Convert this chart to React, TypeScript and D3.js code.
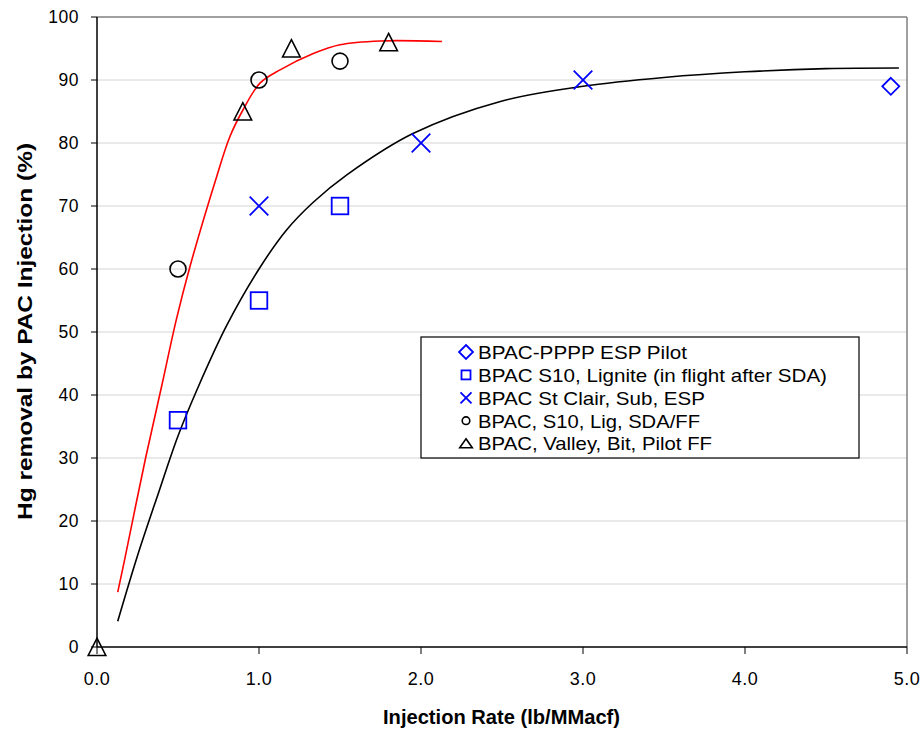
import React, { useEffect } from "react";
import * as d3 from "d3";

const xTicks = [0, 1, 2, 3, 4, 5];
const yTicks = [0, 10, 20, 30, 40, 50, 60, 70, 80, 90, 100];

const diamondPts: [number, number][] = [[4.9, 89]];
const squarePts: [number, number][] = [[0.5, 36], [1.0, 55], [1.5, 70]];
const crossPts: [number, number][] = [[1.0, 70], [2.0, 80], [3.0, 90]];
const circlePts: [number, number][] = [[0.5, 60], [1.0, 90], [1.5, 93]];
const trianglePts: [number, number][] = [[0, 0], [0.9, 85], [1.2, 95], [1.8, 96]];

const redFit: [number, number][] = [
  [0.128, 8.7], [0.17, 13.8], [0.3, 30], [0.4, 41.5], [0.49, 52], [0.574, 60.4],
  [0.739, 74.7], [0.82, 81], [0.9, 85.2], [1.006, 89.5], [1.13, 91.6], [1.335, 94.2],
  [1.5, 95.6], [1.75, 96.2], [2.13, 96.1],
];
const blackFit: [number, number][] = [
  [0.128, 4.1], [0.25, 14.5], [0.38, 24.5], [0.5, 33.5], [0.62, 41], [0.8, 51],
  [1.0, 60], [1.17, 66.2], [1.335, 70.6], [1.54, 74.9], [1.95, 81.5], [2.49, 86.6],
  [3.0, 89], [3.5, 90.4], [4.0, 91.3], [4.5, 91.8], [4.95, 91.9],
];

const legendItems = [
  { label: "BPAC-PPPP ESP Pilot", shape: "diamond", len: 209 },
  { label: "BPAC S10, Lignite (in flight after SDA)", shape: "square", len: 349 },
  { label: "BPAC St Clair, Sub, ESP", shape: "cross", len: 227 },
  { label: "BPAC, S10, Lig, SDA/FF", shape: "circle", len: 222 },
  { label: "BPAC, Valley, Bit, Pilot FF", shape: "triangle", len: 234 },
];

const BLUE = "#0000ff";
const FONT = "'Liberation Sans', Arial, sans-serif";

function Marker({ shape, x, y, legend = false }: { shape: string; x: number; y: number; legend?: boolean }) {
  if (shape === "diamond") {
    const r = legend ? 7 : 8.5;
    return <path d={`M${x},${y - r}L${x + r},${y}L${x},${y + r}L${x - r},${y}Z`} fill="none" stroke={BLUE} strokeWidth={1.8} />;
  }
  if (shape === "square") {
    const r = legend ? 4.5 : 8.3;
    return <rect x={x - r} y={y - r} width={2 * r} height={2 * r} fill="none" stroke={BLUE} strokeWidth={1.8} />;
  }
  if (shape === "cross") {
    const r = legend ? 5.5 : 9.3;
    return <path d={`M${x - r},${y - r}L${x + r},${y + r}M${x - r},${y + r}L${x + r},${y - r}`} fill="none" stroke={BLUE} strokeWidth={1.8} />;
  }
  if (shape === "circle") {
    return <circle cx={x} cy={y} r={legend ? 3.8 : 8} fill="none" stroke="#000" strokeWidth={1.6} />;
  }
  const w = legend ? 6.3 : 8.8;
  const up = legend ? 4.8 : 8.8;
  const dn = legend ? 4.2 : 8.5;
  return <path d={`M${x},${y - up}L${x + w},${y + dn}L${x - w},${y + dn}Z`} fill="none" stroke="#000" strokeWidth={1.6} />;
}

export default function App() {
  useEffect(() => {
    document.body.style.margin = "0";
  }, []);
  const W = 924, H = 736;
  const left = 97, right = 907, top = 17, bottom = 647;
  const x = d3.scaleLinear().domain([0, 5]).range([left, right]);
  const y = d3.scaleLinear().domain([0, 100]).range([bottom, top]);
  const line = d3.line<[number, number]>().x((d) => x(d[0])).y((d) => y(d[1])).curve(d3.curveCatmullRom.alpha(0.5));

  const lx = 421, ly = 337, lw = 438, lh = 121;

  return (
    <svg width={W} height={H} style={{ display: "block", background: "#fff" }} fontFamily={FONT}>
      {yTicks.filter((t) => t > 0 && t < 100).map((t) => (
        <line key={t} x1={left} x2={right} y1={y(t)} y2={y(t)} stroke="#d4d4d4" strokeWidth={1} />
      ))}
      <line x1={left} x2={right} y1={top} y2={top} stroke="#808080" strokeWidth={1.5} />
      <line x1={right} x2={right} y1={top} y2={bottom} stroke="#808080" strokeWidth={1.5} />
      <line x1={left} x2={left} y1={top} y2={bottom} stroke="#000" strokeWidth={1.5} />
      <line x1={left} x2={right} y1={bottom} y2={bottom} stroke="#000" strokeWidth={1.5} />
      {yTicks.map((t) => (
        <g key={t}>
          <line x1={left - 6} x2={left} y1={y(t)} y2={y(t)} stroke="#000" strokeWidth={1} />
          <text x={79} y={y(t)} dy="0.36em" textAnchor="end" fontSize={17.5} letterSpacing={0.5}>{t}</text>
        </g>
      ))}
      {xTicks.map((t) => (
        <g key={t}>
          <line x1={x(t)} x2={x(t)} y1={bottom} y2={bottom + 7} stroke="#000" strokeWidth={1} />
          <text x={x(t)} y={685} textAnchor="middle" fontSize={18} letterSpacing={0.5}>{t.toFixed(1)}</text>
        </g>
      ))}
      <text x={383} y={724} fontSize={21} fontWeight="bold" textLength={237} lengthAdjust="spacingAndGlyphs">Injection Rate (lb/MMacf)</text>
      <text transform={`translate(31.5,${331.5}) rotate(-90)`} textAnchor="middle" fontSize={20.5} fontWeight="bold" textLength={377} lengthAdjust="spacingAndGlyphs">Hg removal by PAC Injection (%)</text>

      <path d={line(redFit) || ""} fill="none" stroke="#ff0000" strokeWidth={1.6} />
      <path d={line(blackFit) || ""} fill="none" stroke="#000" strokeWidth={1.6} />

      {diamondPts.map((p, i) => <Marker key={"d" + i} shape="diamond" x={x(p[0])} y={y(p[1])} />)}
      {squarePts.map((p, i) => <Marker key={"s" + i} shape="square" x={x(p[0])} y={y(p[1])} />)}
      {crossPts.map((p, i) => <Marker key={"c" + i} shape="cross" x={x(p[0])} y={y(p[1])} />)}
      {circlePts.map((p, i) => <Marker key={"o" + i} shape="circle" x={x(p[0])} y={y(p[1])} />)}
      {trianglePts.map((p, i) => <Marker key={"t" + i} shape="triangle" x={x(p[0])} y={y(p[1])} />)}

      <rect x={lx} y={ly} width={lw} height={lh} fill="#fff" stroke="#000" strokeWidth={1.2} />
      {legendItems.map((it, i) => (
        <g key={it.label}>
          <Marker shape={it.shape} x={466} y={352 + i * 22.9} legend />
          <text x={478} y={352 + i * 22.9} dy="0.36em" fontSize={19} textLength={it.len} lengthAdjust="spacingAndGlyphs">{it.label}</text>
        </g>
      ))}
    </svg>
  );
}
